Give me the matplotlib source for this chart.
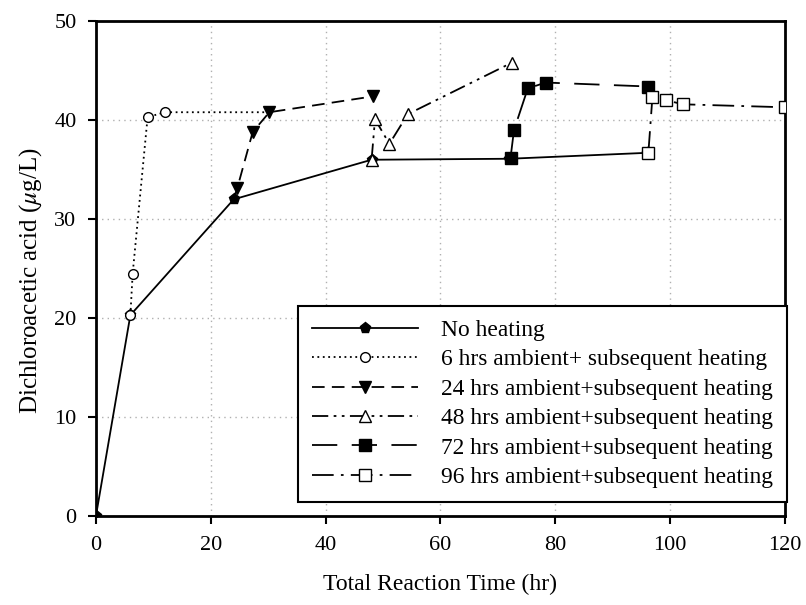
import matplotlib
matplotlib.use("Agg")
import matplotlib.pyplot as plt

plt.rcParams["font.family"] = ["Liberation Serif", "DejaVu Serif"]
plt.rcParams["mathtext.fontset"] = "stix"

# ---------------- DATA ----------------
x_none = [0, 6, 24, 48, 72, 96]
y_none = [0, 20.3, 32.0, 36.0, 36.1, 36.7]

x_6h = [6, 6.4, 9, 12, 30]
y_6h = [20.3, 24.5, 40.3, 40.8, 40.8]

x_24h = [24, 24.6, 27.3, 30.2, 48.2]
y_24h = [32.0, 33.1, 38.8, 40.8, 42.4]

x_48h = [48, 48.6, 51.1, 54.3, 72.4]
y_48h = [36.0, 40.1, 37.6, 40.6, 45.8]

x_72h = [72.2, 72.8, 75.2, 78.3, 96.2]
y_72h = [36.2, 39.0, 43.2, 43.8, 43.4]

x_96h = [96.2, 96.9, 99.3, 102.3, 120]
y_96h = [36.7, 42.3, 42.0, 41.6, 41.3]

labels = [
    "No heating",
    "6 hrs ambient+ subsequent heating",
    "24 hrs ambient+subsequent heating",
    "48 hrs ambient+subsequent heating",
    "72 hrs ambient+subsequent heating",
    "96 hrs ambient+subsequent heating",
]

# ---------------- PLOT ----------------
fig = plt.figure(figsize=(8.06, 6.05), dpi=100)
ax = fig.add_axes([0.119, 0.147, 0.855, 0.818])

lw = 1.3
ax.plot(x_none, y_none, color="black", lw=lw, ls="-", marker="p",
        ms=8, mfc="black", mec="black", label=labels[0], zorder=3)
ax.plot(x_6h, y_6h, color="black", lw=lw, ls=(0, (1, 2)), marker="o",
        ms=7, mfc="white", mec="black", markevery=[0, 1, 2, 3], label=labels[1], zorder=4)
ax.plot(x_24h, y_24h, color="black", lw=lw, ls=(0, (7, 4)), marker="v",
        ms=8, mfc="black", mec="black", markevery=[1, 2, 3, 4], label=labels[2], zorder=5)
ax.plot(x_48h, y_48h, color="black", lw=lw, ls=(0, (9, 3, 1.5, 3, 1.5, 3)), marker="^",
        ms=8, mfc="white", mec="black", label=labels[3], zorder=6)
ax.plot(x_72h, y_72h, color="black", lw=lw, ls=(0, (14, 8)), marker="s",
        ms=8, mfc="black", mec="black", label=labels[4], zorder=7)
ax.plot(x_96h, y_96h, color="black", lw=lw, ls=(0, (12, 4, 1.5, 4)), marker="s",
        ms=8, mfc="white", mec="black", label=labels[5], zorder=8)

ax.set_xlim(0, 120)
ax.set_ylim(0, 50)
ax.set_xticks(range(0, 121, 20))
ax.set_yticks(range(0, 51, 10))
ax.grid(True, color="#b0b0b0", ls=(0, (1, 3)), lw=1.0)
ax.set_axisbelow(True)

for s in ax.spines.values():
    s.set_linewidth(2.0)
    s.set_color("black")
ax.tick_params(direction="out", length=6, width=1.5, labelsize=16, pad=8)

ax.set_xlabel("Total Reaction Time (hr)", fontsize=17, labelpad=14)
ax.set_ylabel("Dichloroacetic acid ($\\mu$g/L)", fontsize=18)
ax.yaxis.set_label_coords(-0.075, 0.475)

leg = ax.legend(loc="lower right", bbox_to_anchor=(1.003, 0.028), fontsize=16.9,
                frameon=True, fancybox=False, edgecolor="black",
                handlelength=4.5, handletextpad=1.0, borderpad=0.6,
                labelspacing=0.34, borderaxespad=0)
leg.get_frame().set_linewidth(1.5)
leg.get_frame().set_alpha(1)

fig.savefig("out.png", dpi=100)
